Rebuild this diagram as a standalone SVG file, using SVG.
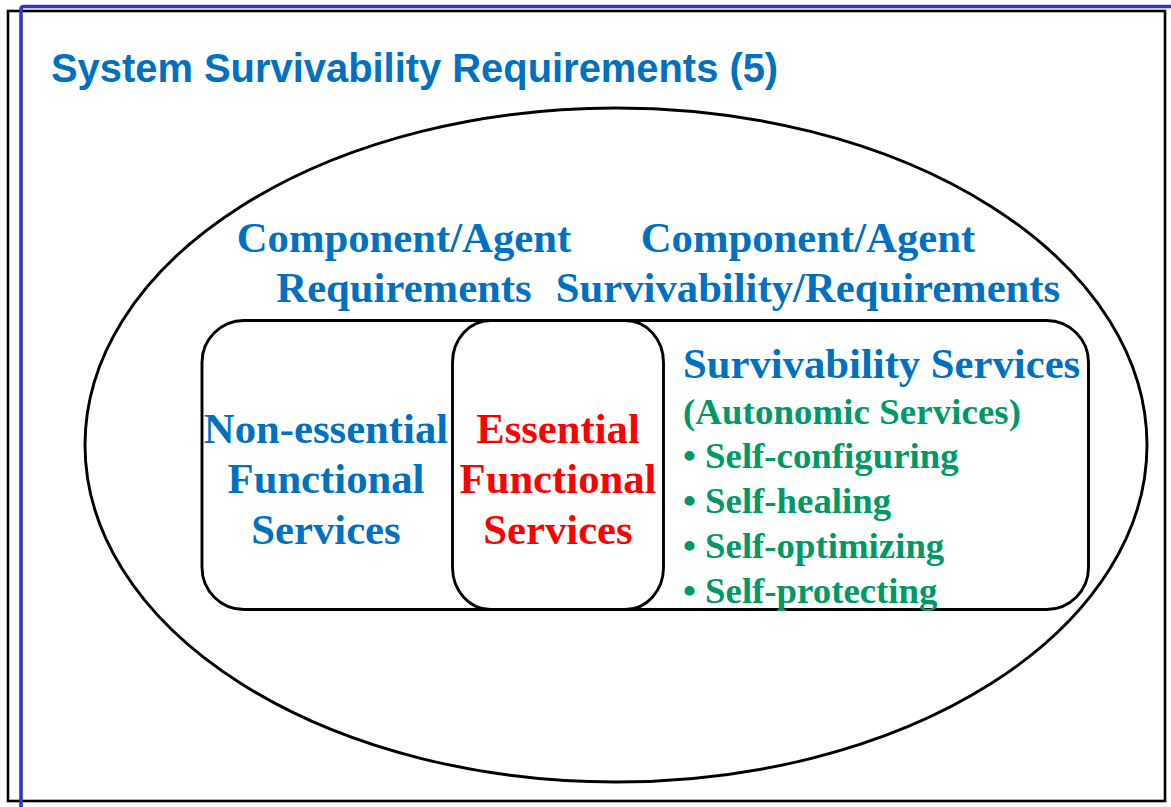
<svg xmlns="http://www.w3.org/2000/svg" width="1171" height="807" viewBox="0 0 1171 807">
<style>
.frame{fill:none;stroke:#000;stroke-width:2.6}
.blue{fill:none;stroke:#3434C8;stroke-width:3.6}
.shape{fill:none;stroke:#000;stroke-width:2.9}
.t{font-family:"Liberation Serif","Times New Roman",serif;font-weight:bold}
.big{font-size:42.7px}
.mid{font-size:36.8px}
.c{text-anchor:middle}
.b{fill:#0070C0}
.r{fill:#FF0000}
.g{fill:#009966}
.title{font-family:"Liberation Sans",Arial,sans-serif;font-weight:bold;font-size:39.9px;fill:#0070C0}
</style>
<rect width="1171" height="807" fill="#fff"/>
<g id="frame">
<rect class="frame" x="8" y="11" width="1157" height="790"/>
<path class="blue" d="M21 807 V9 Q21 6.5 24 6.5 H1171"/>
</g>
<g id="title">
<text class="title" x="51" y="82">System Survivability Requirements (5)</text>
</g>
<g id="system-ellipse">
<ellipse class="shape" cx="616" cy="445" rx="531" ry="337"/>
</g>
<g id="component-requirements">
<text class="t big c b" x="404" y="252">Component/Agent</text>
<text class="t big c b" x="404" y="302">Requirements</text>
</g>
<g id="component-survivability-requirements">
<text class="t big c b" x="808" y="252">Component/Agent</text>
<text class="t big c b" x="808" y="302">Survivability/Requirements</text>
</g>
<g id="services-box">
<rect class="shape" x="202" y="320.5" width="886.5" height="289" rx="42" ry="42"/>
</g>
<g id="non-essential">
<text class="t big c b" x="326" y="443">Non-essential</text>
<text class="t big c b" x="326" y="493">Functional</text>
<text class="t big c b" x="326" y="544">Services</text>
</g>
<g id="essential">
<rect class="shape" x="452.5" y="320.5" width="211" height="289" rx="38" ry="42"/>
<text class="t big c r" x="558" y="443">Essential</text>
<text class="t big c r" x="558" y="493">Functional</text>
<text class="t big c r" x="558" y="544">Services</text>
</g>
<g id="survivability-services">
<text class="t big b" x="683" y="378">Survivability Services</text>
<text class="t mid g" x="683" y="424" textLength="338" lengthAdjust="spacing">(Autonomic Services)</text>
<text class="t mid g" x="683" y="468">• Self-configuring</text>
<text class="t mid g" x="683" y="513">• Self-healing</text>
<text class="t mid g" x="683" y="558">• Self-optimizing</text>
<text class="t mid g" x="683" y="603">• Self-protecting</text>
</g>
<g id="connectors"/>
</svg>
